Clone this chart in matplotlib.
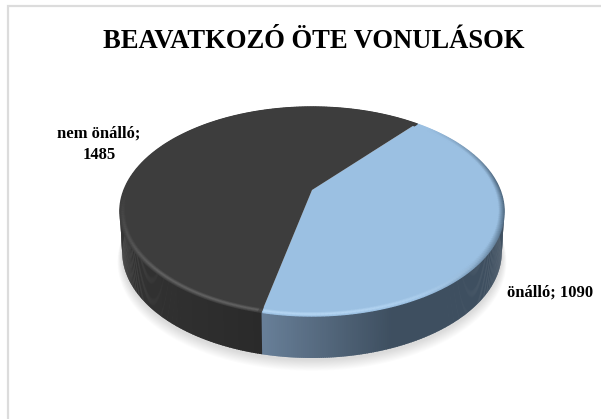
import numpy as np
import matplotlib
matplotlib.use("Agg")
import matplotlib.pyplot as plt
from matplotlib.colors import to_rgb

# Data
titleText = "BEAVATKOZÓ ÖTE VONULÁSOK"
sliceNames = ["önálló", "nem önálló"]
sliceValues = [1090, 1485]

# Pie geometry in pixels, perspective set so the apex sits above the middle
centerX = 312
centerY = 190
radiusX = 188
tiltY = -61
perspective = 0.2057
startAngle = 40
sideDepth = 40


def project(angle, radius=1.0, depth=0.0):
    # angle is in degrees, clockwise from the top of the pie
    a = np.radians(angle)
    x = radius * np.sin(a)
    y = radius * np.cos(a)
    w = 1 + perspective * y
    px = centerX + radiusX * x / w * (1 - 0.012 * depth)
    py = (centerY + tiltY * y) / w + depth * (sideDepth - 2 * y)
    return px, py


def mix(c1, c2, t):
    c1 = np.array(to_rgb(c1))
    c2 = np.array(to_rgb(c2))
    return tuple(c1 + (c2 - c1) * np.clip(t, 0, 1))


def bump(ang, a0, a1, a2, a3):
    # 0 outside a0..a3, 1 between a1 and a2, linear in between
    return float(np.interp(ang, [a0, a1, a2, a3], [0, 1, 1, 0]))


fig = plt.figure(figsize=(6.01, 4.19), dpi=100)
ax = fig.add_axes([0, 0, 1, 1])
ax.set_xlim(0, 601)
ax.set_ylim(419, 0)
ax.axis("off")

# Frame of the chart area, only left and top are in the crop
ax.plot([8, 8, 601], [419, 6.5, 6.5], color="#dcdcdc", lw=1.6, solid_joinstyle="miter")

# Soft shadow under the pie
circle = np.linspace(0, 360, 361)
for i in range(12):
    sx, sy = project(circle, 1.0 + 0.002 * (12 - i), 1.0)
    ax.fill(sx, sy + 9 - i * 0.6, color="#000000", alpha=0.011, lw=0, zorder=1)

# Slice angles from the values
total = sum(sliceValues)
sweeps = [v / total * 360 for v in sliceValues]
edges = [startAngle, startAngle + sweeps[0], startAngle + sweeps[0] + sweeps[1]]

# Side wall, visible part only (front half of the rim)
for i in range(2):
    for ang in np.arange(edges[i], edges[i + 1], 0.5):
        if not (70 < ang % 360 < 290):
            continue
        angs = np.array([ang, ang + 0.8])
        x1, y1 = project(angs)
        x2, y2 = project(angs, depth=1.0)
        if i == 0:
            col = mix("#687f98", "#3e4f60", (x1[0] - 263) / 130)
        else:
            col = mix("#2a2a2a", "#333333", (263 - x1[0]) / 140)
        ax.fill([x1[0], x1[1], x2[1], x2[0]], [y1[0], y1[1], y2[1], y2[0]],
                color=col, lw=0, zorder=2)

# Top faces
topColors = ["#9bc0e2", "#3d3d3d"]
for i in range(2):
    angs = np.linspace(edges[i], edges[i + 1], 200)
    x, y = project(angs)
    ax.fill(np.r_[centerX, x], np.r_[centerY, y], color=topColors[i], lw=0, zorder=3)

# Bevel along the rim of the top faces
bevelRadii = np.linspace(1.0, 0.97, 8)
for i in range(2):
    for ang in np.arange(edges[i], edges[i + 1] - 0.5, 1.0):
        angs = np.array([ang, ang + 1.1])
        for j, r in enumerate(bevelRadii):
            x, y = project(angs, r)
            t = 1 - abs(j - 3.5) / 3.5
            if i == 0:
                # shadow on the right of the rim, light at the front
                dark = bump(ang, 45, 85, 105, 150) * (1 - j / 7)
                light = bump(ang, 120, 170, 200, 201) * t
                col = mix(mix("#9bc0e2", "#4e6880", dark), "#b8d8f5", light)
            else:
                light = bump(ang, 192, 193, 225, 268) * t
                col = mix("#3d3d3d", "#666666", light)
            ax.plot(x, y, color=col, lw=1.0, solid_capstyle="butt", zorder=4)

# Texts
ax.text(313.5, 41, titleText, family="Liberation Serif", weight="bold", fontsize=19.2,
        ha="center", va="center", color="black")
ax.text(99, 144.5, f"{sliceNames[1]};\n{sliceValues[1]}", family="Liberation Serif",
        weight="bold", fontsize=12, ha="center", va="center", linespacing=1.47, color="black")
ax.text(550.5, 293, f"{sliceNames[0]}; {sliceValues[0]}", family="Liberation Serif",
        weight="bold", fontsize=12, ha="center", va="center", color="black")

fig.savefig("out.png", dpi=100)
